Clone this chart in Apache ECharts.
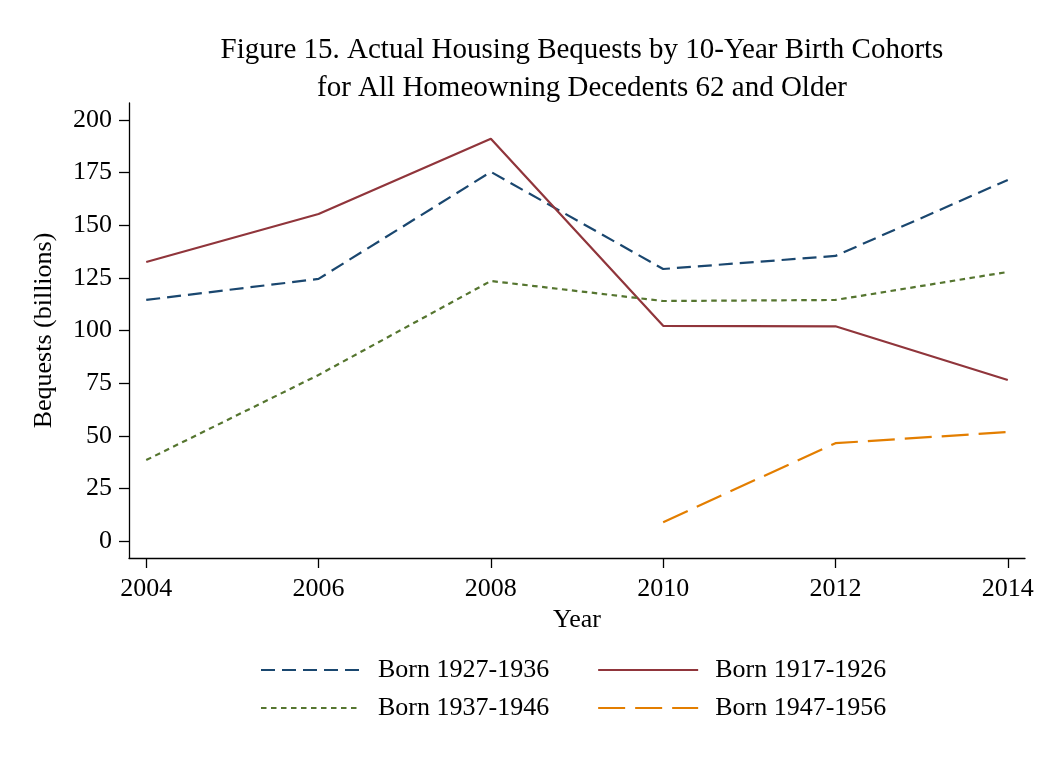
<!DOCTYPE html>
<html>
<head>
<meta charset="utf-8">
<script src="https://cdn.jsdelivr.net/npm/echarts@6/dist/echarts.min.js"></script>
<style>
  html, body { margin: 0; padding: 0; background: #ffffff; }
  #chart { width: 1050px; height: 767px; }
</style>
</head>
<body>
<div id="chart"></div>
<script>
// Survey years
const years = [2004, 2006, 2008, 2010, 2012, 2014];
const yTicks = [0, 25, 50, 75, 100, 125, 150, 175, 200];

// Housing bequests in billions, by birth cohort (null = cohort not yet in sample)
const born1927_1936 = [114.5, 124.5, 175.3, 129.2, 135.4, 171.5];
const born1917_1926 = [132.5, 155.3, 191.0, 102.2, 102.0, 76.5];
const born1937_1946 = [38.5, 78.9, 123.5, 114.0, 114.5, 127.8];
const born1947_1956 = [null, null, null, 9.0, 46.5, 51.8];

const seriesNames = ['Born 1927-1936', 'Born 1917-1926', 'Born 1937-1946', 'Born 1947-1956'];

const FONT = '"Liberation Serif", "Times New Roman", serif';

function pairs(values) {
  const out = [];
  years.forEach((yr, i) => { if (values[i] !== null) out.push([yr, values[i]]); });
  return out;
}

function lineSeries(name, values, color, dash) {
  return {
    name: name,
    type: 'line',
    data: pairs(values),
    symbol: 'none',
    showSymbol: false,
    silent: true,
    lineStyle: { color: color, width: 2.2, type: dash },
    itemStyle: { color: color }
  };
}

const legendCommon = {
  left: 260,
  padding: 0,
  orient: 'horizontal',
  itemWidth: 100,
  itemHeight: 14,
  itemGap: 48,
  itemStyle: { opacity: 0 },
  textStyle: { fontFamily: FONT, fontSize: 26, color: '#000', padding: [0, 0, 0, 12] },
  selectedMode: false
};

const chart = echarts.init(document.getElementById('chart'), null, { renderer: 'canvas' });
chart.setOption({
  backgroundColor: '#ffffff',
  animation: false,
  title: {
    text: 'Figure 15. Actual Housing Bequests by 10-Year Birth Cohorts\nfor All Homeowning Decedents 62 and Older',
    left: 577,
    top: 26,
    textAlign: 'center',
    textStyle: { fontFamily: FONT, fontSize: 29, fontWeight: 'normal', color: '#000', lineHeight: 38, align: 'center' }
  },
  grid: { left: 129, right: 25, top: 103, bottom: 209, containLabel: false },
  legend: [
    Object.assign({ data: [seriesNames[0], seriesNames[1]], top: 657 }, legendCommon),
    Object.assign({ data: [seriesNames[2], seriesNames[3]], top: 695 }, legendCommon)
  ],
  xAxis: {
    type: 'value',
    min: 2003.8,
    max: 2014.2,
    name: 'Year',
    nameLocation: 'middle',
    nameGap: 44,
    nameTextStyle: { fontFamily: FONT, fontSize: 26, color: '#000' },
    axisLine: { show: true, onZero: false, lineStyle: { color: '#000', width: 1.3 } },
    axisTick: { show: true, length: 10, customValues: years, lineStyle: { color: '#000', width: 1.3 } },
    axisLabel: { customValues: years, margin: 18, fontFamily: FONT, fontSize: 26, color: '#000', formatter: v => String(v) },
    splitLine: { show: false }
  },
  yAxis: {
    type: 'value',
    min: -8,
    max: 208,
    name: 'Bequests (billions)',
    nameLocation: 'middle',
    nameGap: 72,
    nameTextStyle: { fontFamily: FONT, fontSize: 26, color: '#000' },
    axisLine: { show: true, onZero: false, lineStyle: { color: '#000', width: 1.3 } },
    axisTick: { show: true, length: 10, customValues: yTicks, lineStyle: { color: '#000', width: 1.3 } },
    axisLabel: { customValues: yTicks, margin: 17, fontFamily: FONT, fontSize: 26, color: '#000' },
    splitLine: { show: false }
  },
  series: [
    lineSeries(seriesNames[0], born1927_1936, '#1a476f', [14, 7]),
    lineSeries(seriesNames[1], born1917_1926, '#90353b', 'solid'),
    lineSeries(seriesNames[2], born1937_1946, '#55752f', [5.5, 4.5]),
    lineSeries(seriesNames[3], born1947_1956, '#e37e00', [27, 10])
  ]
});
</script>
</body>
</html>
